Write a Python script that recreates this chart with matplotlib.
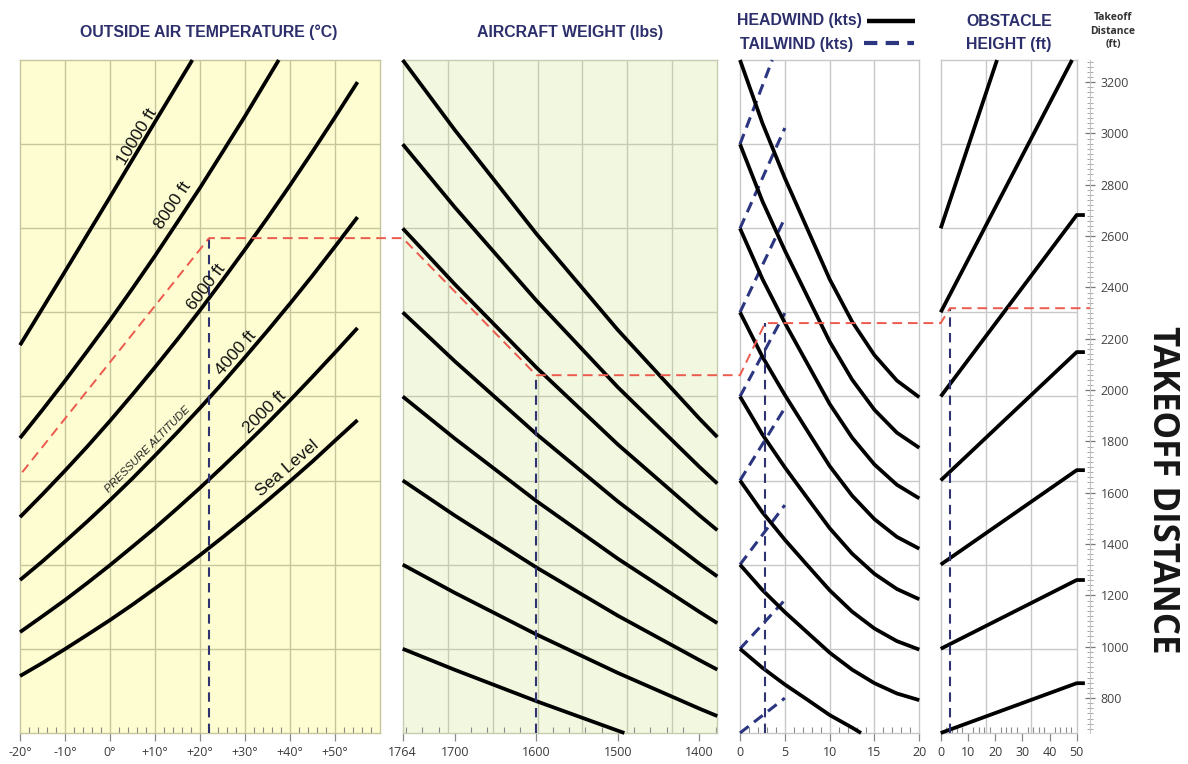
import numpy as np
import matplotlib
matplotlib.use("Agg")
import matplotlib.pyplot as plt
from matplotlib.lines import Line2D
from matplotlib import font_manager as fm

# ---------------- data ----------------
# Panel 1 : outside air temperature (degC) -> takeoff distance (ft) per pressure altitude
oat_ticks = [-20, -10, 0, 10, 20, 30, 40, 50]
oat_labels = ["-20°", "-10°", "0°", "+10°", "+20°", "+30°", "+40°", "+50°"]
oat_temps = [-20, -15, -10, -5, 0, 5, 10, 15, 20, 25, 30, 35, 40, 45, 50, 55]
alt_sea_level = [886, 937, 991, 1047, 1104, 1164, 1227, 1291, 1357, 1426, 1497, 1570, 1645, 1722, 1803, 1883]
alt_2000 = [1057, 1119, 1182, 1249, 1318, 1390, 1463, 1540, 1619, 1701, 1785, 1871, 1960, 2052, 2146, 2242]
alt_4000 = [1260, 1333, 1410, 1489, 1571, 1656, 1745, 1836, 1930, 2027, 2128, 2231, 2337, 2446, 2559, 2674]
alt_6000 = [1505, 1594, 1686, 1781, 1880, 1983, 2089, 2198, 2311, 2428, 2548, 2671, 2798, 2929, 3063, 3200]
oat_8000 = [-20, -15, -10, -5, 0, 5, 10, 15, 20, 25, 30, 37.5]
alt_8000 = [1813, 1923, 2036, 2153, 2272, 2396, 2523, 2655, 2788, 2927, 3067, 3286]
oat_10000 = [-20, -10, 0, 10, 18.3]
alt_10000 = [2175, 2462, 2752, 3045, 3286]

# Panel 2 : aircraft weight (lbs)
weight_ticks = [1764, 1700, 1600, 1500, 1400]
weights = [1764, 1700, 1600, 1500, 1400, 1378]
weight_lines = [
    [3286, 3013, 2609, 2234, 1889, 1817],
    [2958, 2712, 2349, 2011, 1701, 1636],
    [2630, 2412, 2088, 1788, 1512, 1454],
    [2303, 2112, 1829, 1566, 1324, 1274],
    [1975, 1811, 1568, 1343, 1136, 1092],
    [1648, 1511, 1309, 1121, 948, 911],
    [1320, 1210, 1048, 898, 759, 730],
]
weights_last = [1764, 1700, 1600, 1500, 1492]
weight_last_line = [992, 910, 788, 673, 664]

# Panel 3 : wind (kts)
wind_ticks = [0, 5, 10, 15, 20]
wind_kts = [0, 2.5, 5, 7.5, 10, 12.5, 15, 17.5, 20]
headwind_lines = [
    [3286, 3040, 2826, 2629, 2432, 2267, 2136, 2037, 1972],
    [2958, 2736, 2544, 2366, 2189, 2041, 1923, 1834, 1775],
    [2630, 2433, 2262, 2104, 1946, 1815, 1710, 1631, 1578],
    [2303, 2130, 1981, 1842, 1704, 1589, 1497, 1428, 1382],
    [1975, 1827, 1699, 1580, 1462, 1363, 1284, 1225, 1185],
    [1648, 1524, 1417, 1318, 1220, 1137, 1071, 1022, 989],
    [1320, 1221, 1135, 1056, 977, 911, 858, 818, 792],
]
headwind_last_kts = [0, 2.5, 5, 7.5, 10, 12.5, 13.5]
headwind_last = [992, 918, 853, 794, 734, 685, 664]
tailwind_kts = [0, 5]
tailwind_lines = [[664, 800], [992, 1182], [1320, 1552], [1648, 1930],
                  [1975, 2300], [2303, 2670], [2630, 3021]]
tailwind_top_kts = [0, 3.6]
tailwind_top = [2958, 3286]

# Panel 4 : obstacle height (ft)
obstacle_ticks = [0, 10, 20, 30, 40, 50]
obstacle_ft = [0, 50, 53]
obstacle_lines = [[664, 858, 858], [992, 1260, 1260], [1320, 1688, 1688],
                  [1648, 2148, 2148], [1975, 2682, 2682]]
obstacle_steep_ft = [[0, 48.3], [0, 20.7]]
obstacle_steep = [[2303, 3286], [2630, 3286]]

# takeoff distance scale
dist_ticks = [800, 1000, 1200, 1400, 1600, 1800, 2000, 2200, 2400, 2600, 2800, 3000, 3200]
dist_range = [664, 3286]

# worked example
ex_start_oat, ex_start_dist = -19.5, 1680
ex_oat, ex_dist_oat = 22, 2592
ex_weight, ex_dist_weight = 1600, 2058
ex_tailwind, ex_dist_wind = 2.8, 2261
ex_obstacle, ex_dist_final = 3.4, 2319

# ---------------- styling ----------------
names = {f.name for f in fm.fontManager.ttflist}
NARROW = "Liberation Sans Narrow" if "Liberation Sans Narrow" in names else "Liberation Sans"
nscale = 1.0 if NARROW == "Liberation Sans Narrow" else 0.85
TITLE_C = "#2c2f6c"
NAVY = "#2b3580"

W, H = 1188, 764
fig = plt.figure(figsize=(W / 100, H / 100), dpi=100)
fig.patch.set_facecolor("white")


def px_axes(x0, x1, y0=60, y1=733):
    return fig.add_axes([x0 / W, 1 - y1 / H, (x1 - x0) / W, (y1 - y0) / H])


def ftext(x, y, s, **kw):
    return fig.text(x / W, 1 - y / H, s, **kw)


ax1 = px_axes(20, 380)
ax2 = px_axes(402.7, 717.3)
ax3 = px_axes(740, 919.3)
ax4 = px_axes(940.7, 1076.7)
axd = px_axes(1089, 1090)

rows = np.linspace(dist_range[0], dist_range[1], 9)[1:-1]


def setup(ax, xlim, vgrid, face, gcol, major, labels, minor):
    ax.set_facecolor(face)
    ax.set_xlim(*xlim)
    ax.set_ylim(*dist_range)
    for y in rows:
        ax.axhline(y, color=gcol, lw=1.0, zorder=1)
    for x in vgrid:
        ax.axvline(x, color=gcol, lw=1.0, zorder=1)
    for s in ax.spines.values():
        s.set_color(gcol)
        s.set_linewidth(1.0)
    ax.set_yticks([])
    ax.set_xticks(major)
    ax.set_xticklabels(labels, fontsize=9, color="#3a3a3a", family="Open Sans")
    ax.set_xticks(minor, minor=True)
    ax.tick_params(axis="x", which="major", direction="out", length=6, width=0.9,
                   color="#8a8a8a", pad=3)
    ax.tick_params(axis="x", which="minor", direction="in", length=4, width=0.8,
                   color="#8a8a8a")


setup(ax1, (-20, 60), range(-10, 60, 10), "#fdfdd1", "#c6c69c",
      oat_ticks, oat_labels, [t for t in range(-20, 61, 2) if t % 10])
setup(ax2, (1764, 1378), np.linspace(1764, 1378, 8)[1:-1], "#f1f8df", "#c6ccb2",
      weight_ticks, [str(w) for w in weight_ticks],
      [w for w in range(1380, 1764, 20) if w % 100])
setup(ax3, (0, 20), [5, 10, 15], "white", "#c8c8c8",
      wind_ticks, [str(v) for v in wind_ticks], [v for v in range(0, 21) if v % 5])
setup(ax4, (0, 50), [50 / 3, 100 / 3], "white", "#c8c8c8",
      obstacle_ticks, [str(v) for v in obstacle_ticks],
      [v for v in range(0, 51, 2) if v % 10])

LW = 2.7
line_kw = dict(color="black", lw=LW, solid_capstyle="butt", solid_joinstyle="round",
               zorder=4, clip_on=False)

# panel 1 curves
p1_curves = [
    (oat_temps, alt_sea_level), (oat_temps, alt_2000), (oat_temps, alt_4000),
    (oat_temps, alt_6000), (oat_8000, alt_8000), (oat_10000, alt_10000),
]
for xs, ys in p1_curves:
    ax1.plot(xs, ys, **line_kw)

# panel 2 curves
for ys in weight_lines:
    ax2.plot(weights, ys, **line_kw)
ax2.plot(weights_last, weight_last_line, **line_kw)

# panel 3 curves
for ys in headwind_lines:
    ax3.plot(wind_kts, ys, **line_kw)
ax3.plot(headwind_last_kts, headwind_last, **line_kw)
dash_kw = dict(color=NAVY, lw=2.2, dashes=(3.6, 2.2), zorder=3, clip_on=False)
for ys in tailwind_lines:
    ax3.plot(tailwind_kts, ys, **dash_kw)
ax3.plot(tailwind_top_kts, tailwind_top, **dash_kw)

# panel 4 curves
for ys in obstacle_lines:
    ax4.plot(obstacle_ft, ys, **line_kw)
for xs, ys in zip(obstacle_steep_ft, obstacle_steep):
    ax4.plot(xs, ys, **line_kw)

# distance scale axis
axd.set_ylim(*dist_range)
axd.set_xticks([])
for k in ["left", "top", "bottom"]:
    axd.spines[k].set_visible(False)
axd.spines["right"].set_color("#c4c4c4")
axd.patch.set_alpha(0)
axd.yaxis.tick_right()
axd.set_yticks(dist_ticks)
axd.set_yticklabels([str(d) for d in dist_ticks], fontsize=9, color="#444444",
                    family="Open Sans")
axd.set_yticks([d for d in range(680, 3290, 20) if d % 200], minor=True)
axd.tick_params(axis="y", which="major", direction="inout", length=7, width=0.9,
                color="#777777", pad=4)
axd.tick_params(axis="y", which="minor", direction="inout", length=4, width=0.6,
                color="#999999")

# curve labels in panel 1


def angle_at(ax, xs, ys, x):
    x0, x1 = x - 1.5, x + 1.5
    p0 = ax.transData.transform((x0, np.interp(x0, xs, ys)))
    p1 = ax.transData.transform((x1, np.interp(x1, xs, ys)))
    return np.degrees(np.arctan2(p1[1] - p0[1], p1[0] - p0[0]))


curve_labels = [
    ("10000 ft", oat_10000, alt_10000, 6.0, 2985),
    ("8000 ft", oat_8000, alt_8000, 14.0, 2720),
    ("6000 ft", oat_temps, alt_6000, 21.4, 2400),
    ("4000 ft", oat_temps, alt_4000, 28.0, 2145),
    ("2000 ft", oat_temps, alt_2000, 34.3, 1915),
    ("Sea Level", oat_temps, alt_sea_level, 39.5, 1695),
]
for txt, xs, ys, tx, ty in curve_labels:
    ang = angle_at(ax1, xs, ys, tx)
    ax1.text(tx, ty, txt, rotation=ang, rotation_mode="anchor", ha="center",
             va="center", fontsize=12.5, family="Liberation Sans", color="#111111", zorder=6)
ang = angle_at(ax1, oat_temps, alt_4000, 8.3)
ax1.text(8.3, 1768, "PRESSURE ALTITUDE", rotation=ang, rotation_mode="anchor",
         ha="center", va="center", fontsize=8, family="Liberation Sans",
         style="italic", color="#222222", zorder=6)

# worked example lines
inv = fig.transFigure.inverted()


def to_fig(ax, x, y):
    return inv.transform(ax.transData.transform((x, y)))


red_pts = [
    to_fig(ax1, ex_start_oat, ex_start_dist),
    to_fig(ax1, ex_oat, ex_dist_oat),
    to_fig(ax2, weights[0], ex_dist_oat),
    to_fig(ax2, ex_weight, ex_dist_weight),
    to_fig(ax3, 0, ex_dist_weight),
    to_fig(ax3, ex_tailwind, ex_dist_wind),
    to_fig(ax4, 0, ex_dist_wind),
    to_fig(ax4, ex_obstacle, ex_dist_final),
]
red_pts.append((1090 / W, red_pts[-1][1]))
red_pts = np.array(red_pts)
fig.add_artist(Line2D(red_pts[:, 0], red_pts[:, 1], transform=fig.transFigure,
                      color="#ec5a4e", lw=1.4, dashes=(5, 3), zorder=7))

vkw = dict(color="#2f3370", lw=1.5, dashes=(4.5, 3), zorder=5)
ax1.plot([ex_oat, ex_oat], [dist_range[0], ex_dist_oat], **vkw)
ax2.plot([ex_weight, ex_weight], [dist_range[0], ex_dist_weight], **vkw)
ax3.plot([ex_tailwind, ex_tailwind], [dist_range[0], ex_dist_wind], **vkw)
ax4.plot([ex_obstacle, ex_obstacle], [dist_range[0], ex_dist_final], **vkw)

# ---------------- header texts ----------------
tkw = dict(family=NARROW, weight="bold", color=TITLE_C, ha="center", va="center")
ftext(209, 32, "OUTSIDE AIR TEMPERATURE (°C)", fontsize=13.5 * nscale, **tkw)
ftext(570, 32, "AIRCRAFT WEIGHT (lbs)", fontsize=13.5 * nscale, **tkw)
ftext(799, 21, "HEADWIND (kts)", fontsize=13.5 * nscale, **tkw)
ftext(797, 44, "TAILWIND (kts)", fontsize=13.5 * nscale, **tkw)
ftext(1009, 21, "OBSTACLE", fontsize=13.5 * nscale, **tkw)
ftext(1009, 44, "HEIGHT (ft)", fontsize=13.5 * nscale, **tkw)
fig.add_artist(Line2D([867 / W, 915 / W], [1 - 21 / H] * 2, transform=fig.transFigure,
                      color="black", lw=3.2, solid_capstyle="butt"))
fig.add_artist(Line2D([864 / W, 914 / W], [1 - 43 / H] * 2, transform=fig.transFigure,
                      color=NAVY, lw=3.0, dashes=(3.2, 2.0)))
ftext(1113, 31, "Takeoff\nDistance\n(ft)", fontsize=7.5, family="Open Sans",
      weight="bold", color="#333333", ha="center", va="center", linespacing=1.35)
ftext(1162, 490, "TAKEOFF DISTANCE", fontsize=25, family="Open Sans", weight="bold",
      color="#161616", rotation=-90, ha="center", va="center")

fig.savefig("out.png", dpi=100, facecolor="white")
